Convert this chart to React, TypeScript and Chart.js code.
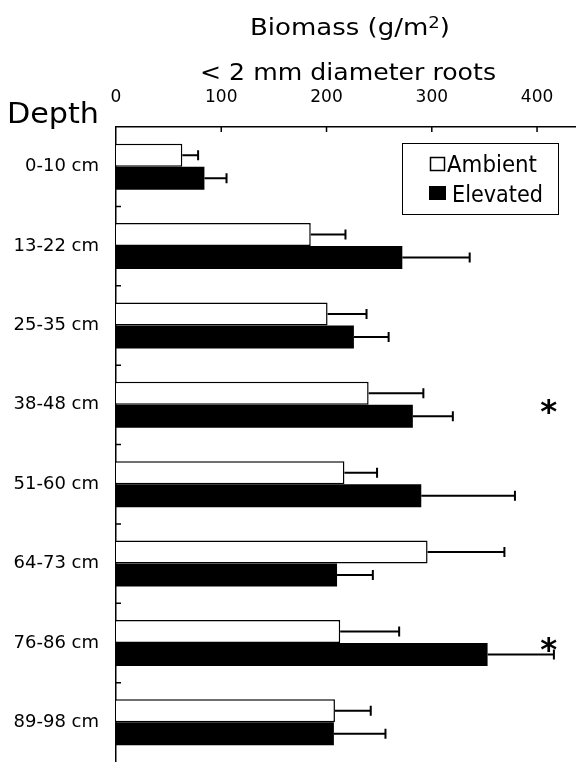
import React, { useEffect, useRef } from "react";
import { Chart, registerables } from "chart.js";

Chart.register(...registerables);

// ---- data ----
const depths = ["0-10 cm", "13-22 cm", "25-35 cm", "38-48 cm", "51-60 cm", "64-73 cm", "76-86 cm", "89-98 cm"];
const ambient = [63, 185, 201, 240, 217, 296, 213, 208];
const ambientErr = [15, 33, 37, 52, 31, 73, 56, 34];
const elevated = [84, 272, 226, 282, 290, 210, 353, 207];
const elevatedErr = [21, 64, 33, 38, 89, 34, 63, 49];
const significance = ["", "", "", "*", "", "", "*", ""];
const xTickValues = [0, 100, 200, 300, 400];
const seriesLabels = ["Ambient", "Elevated"];
const xMin = 0;
const xMax = 437;
const sigValue = 411;

const FONT = "'DejaVu Sans', sans-serif";

function fitTextLeft(ctx: CanvasRenderingContext2D, text: string, left: number, baseline: number, size: number, width: number) {
  ctx.save();
  ctx.font = `${size}px ${FONT}`;
  const w = ctx.measureText(text).width;
  const s = width / w;
  ctx.translate(left, baseline);
  ctx.scale(s, 1);
  ctx.textAlign = "left";
  ctx.textBaseline = "alphabetic";
  ctx.fillText(text, 0, 0);
  ctx.restore();
}

function fitGlyph(ctx: CanvasRenderingContext2D, glyph: string, cx: number, cy: number, w: number, h: number) {
  ctx.save();
  ctx.font = `bold 40px ${FONT}`;
  ctx.textAlign = "left";
  ctx.textBaseline = "alphabetic";
  const m = ctx.measureText(glyph);
  const gw = m.actualBoundingBoxLeft + m.actualBoundingBoxRight;
  const gh = m.actualBoundingBoxAscent + m.actualBoundingBoxDescent;
  const sx = w / gw;
  const sy = h / gh;
  ctx.translate(cx, cy);
  ctx.scale(sx, sy);
  const gx = -(m.actualBoundingBoxRight - m.actualBoundingBoxLeft) / 2;
  const gy = (m.actualBoundingBoxAscent - m.actualBoundingBoxDescent) / 2;
  ctx.fillText(glyph, gx, gy);
  ctx.restore();
}

export default function App() {
  const ref = useRef<HTMLCanvasElement>(null);

  useEffect(() => {
    document.body.style.margin = "0";
    const canvas = ref.current!;
    const errors = [ambientErr, elevatedErr];

    const decor = {
      id: "decor",
      afterDatasetsDraw(chart: any) {
        const ctx: CanvasRenderingContext2D = chart.ctx;
        const xs = chart.scales.x;
        ctx.save();
        ctx.strokeStyle = "#000";
        ctx.lineWidth = 2;
        chart.data.datasets.forEach((ds: any, di: number) => {
          const meta = chart.getDatasetMeta(di);
          meta.data.forEach((bar: any, i: number) => {
            const v = ds.data[i];
            const e = errors[di][i];
            const x0 = xs.getPixelForValue(v);
            const x1 = xs.getPixelForValue(v + e);
            const y = bar.y;
            ctx.beginPath();
            ctx.moveTo(x0, y);
            ctx.lineTo(x1, y);
            ctx.moveTo(x1, y - 5);
            ctx.lineTo(x1, y + 5);
            ctx.stroke();
          });
        });
        ctx.restore();
      },
      afterDraw(chart: any) {
        const ctx: CanvasRenderingContext2D = chart.ctx;
        const xs = chart.scales.x;
        const ys = chart.scales.y;
        const area = chart.chartArea;
        ctx.save();
        ctx.strokeStyle = "#000";
        ctx.fillStyle = "#000";
        ctx.lineWidth = 1.5;
        // inward tick marks on top axis
        ctx.beginPath();
        xTickValues.forEach((v) => {
          if (v === xMin) return;
          const x = xs.getPixelForValue(v);
          ctx.moveTo(x, area.top);
          ctx.lineTo(x, area.top + 5);
        });
        // inward tick marks on the depth axis, between categories
        for (let i = 0; i < depths.length - 1; i++) {
          const y = (ys.getPixelForValue(i) + ys.getPixelForValue(i + 1)) / 2;
          ctx.moveTo(area.left, y);
          ctx.lineTo(area.left + 5, y);
        }
        ctx.stroke();

        // titles
        ctx.fillStyle = "#000";
        {
          const size = 23;
          const supSize = 16;
          ctx.save();
          ctx.font = `${size}px ${FONT}`;
          const p1 = "Biomass (g/m";
          const p3 = ")";
          const w1 = ctx.measureText(p1).width;
          const w3 = ctx.measureText(p3).width;
          ctx.font = `${supSize}px ${FONT}`;
          const w2 = ctx.measureText("2").width;
          const s = 200 / (w1 + w2 + w3);
          ctx.translate(250, 35);
          ctx.scale(s, 1);
          ctx.textBaseline = "alphabetic";
          ctx.font = `${size}px ${FONT}`;
          ctx.fillText(p1, 0, 0);
          ctx.font = `${supSize}px ${FONT}`;
          ctx.fillText("2", w1, -7);
          ctx.font = `${size}px ${FONT}`;
          ctx.fillText(p3, w1 + w2, 0);
          ctx.restore();
        }
        fitTextLeft(ctx, "< 2 mm diameter roots", 200, 80, 23, 296);
        fitTextLeft(ctx, "Depth", 7, 123, 28, 92);

        // legend
        ctx.lineWidth = 1;
        ctx.strokeRect(402.5, 143.5, 156, 71);
        ctx.lineWidth = 1.5;
        ctx.fillStyle = "#fff";
        ctx.fillRect(430.5, 157.5, 14, 13);
        ctx.strokeRect(430.5, 157.5, 14, 13);
        ctx.fillStyle = "#000";
        ctx.fillRect(429, 186, 17, 14);
        fitTextLeft(ctx, chart.data.datasets[0].label, 447, 172, 23, 90);
        fitTextLeft(ctx, chart.data.datasets[1].label, 452, 202, 23, 91);

        // significance marks
        significance.forEach((m, i) => {
          if (!m) return;
          fitGlyph(ctx, m, xs.getPixelForValue(sigValue), ys.getPixelForValue(i), 17, 16);
        });
        ctx.restore();
      },
    };

    const chart = new Chart(canvas, {
      type: "bar",
      data: {
        labels: depths,
        datasets: [
          {
            label: seriesLabels[0],
            data: ambient,
            backgroundColor: "#ffffff",
            borderColor: "#000000",
            borderWidth: 1.5,
            categoryPercentage: 0.58,
            barPercentage: 1.0,
          },
          {
            label: seriesLabels[1],
            data: elevated,
            backgroundColor: "#000000",
            borderColor: "#000000",
            borderWidth: 0,
            categoryPercentage: 0.58,
            barPercentage: 1.0,
          },
        ],
      },
      options: {
        indexAxis: "y",
        responsive: false,
        animation: false,
        layout: { padding: { top: 80, left: 0, right: 0, bottom: 0 } },
        plugins: {
          legend: { display: false },
          title: { display: false },
          tooltip: { enabled: false },
        },
        scales: {
          x: {
            position: "top",
            min: xMin,
            max: xMax,
            grid: { display: false, drawTicks: false },
            border: { display: true, color: "#000", width: 1.5 },
            ticks: {
              color: "#000",
              font: { family: FONT, size: 17 },
              padding: 19,
              maxRotation: 0,
            },
            afterBuildTicks: (scale: any) => {
              scale.ticks = xTickValues.map((v) => ({ value: v }));
            },
            afterFit: (scale: any) => {
              scale.height = 47;
              scale.paddingLeft = 0;
              scale.paddingRight = 0;
            },
          },
          y: {
            grid: { display: false, drawTicks: false },
            border: { display: true, color: "#000", width: 1.5 },
            ticks: {
              color: "#000",
              font: { family: FONT, size: 18 },
              padding: 17,
            },
            afterFit: (scale: any) => {
              scale.width = 116;
              scale.paddingTop = 0;
              scale.paddingBottom = 0;
            },
          },
        },
      },
      plugins: [decor],
    });

    return () => chart.destroy();
  }, []);

  return (
    <div style={{ width: 576, height: 762, overflow: "hidden" }}>
      <canvas ref={ref} width={576} height={762} style={{ display: "block" }} />
    </div>
  );
}
